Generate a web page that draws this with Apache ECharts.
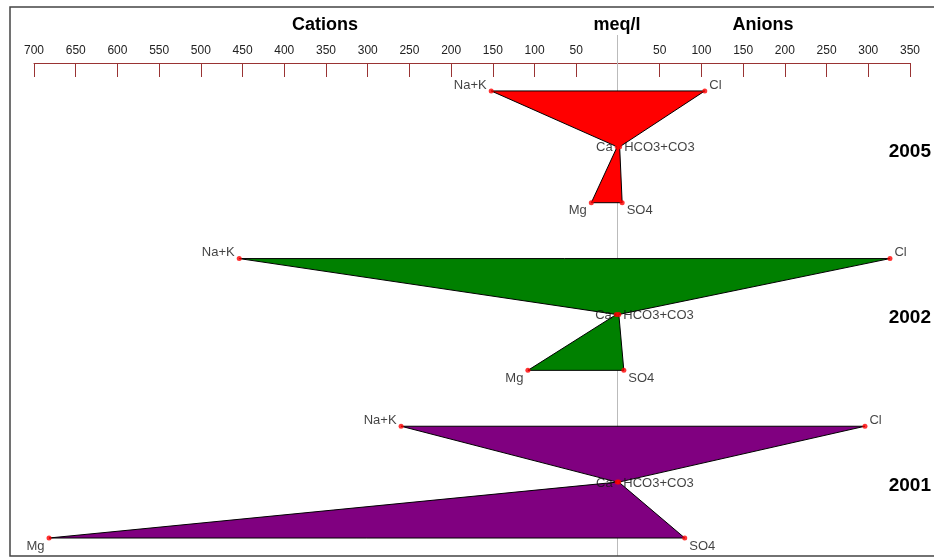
<!DOCTYPE html>
<html><head><meta charset="utf-8">
<script src="https://cdn.jsdelivr.net/npm/echarts@6/dist/echarts.min.js"></script>
<style>html,body{margin:0;padding:0;background:#fff}#c{width:934px;height:558px}</style>
</head><body><div id="c"></div>
<script>
// Stiff diagram data (meq/l)
var years = ['2005', '2002', '2001'];
var colors = ['#ff0000', '#008000', '#800080'];
var cationNames = ['Na+K', 'Ca', 'Mg'];
var anionNames = ['Cl', 'HCO3+CO3', 'SO4'];
var cations2005 = [152, 1, 32];
var anions2005 = [104, 2, 5];
var cations2002 = [454, 2, 108];
var anions2002 = [326, 1, 7];
var cations2001 = [260, 1, 682];
var anions2001 = [296, 1, 80];
var tickValues = [-700,-650,-600,-550,-500,-450,-400,-350,-300,-250,-200,-150,-100,-50,50,100,150,200,250,300,350];

var cations = [cations2005, cations2002, cations2001];
var anions = [anions2005, anions2002, anions2001];

var chart = echarts.init(document.getElementById('c'));
var FONT = '"Liberation Sans", Arial, sans-serif';

var series = [];
years.forEach(function (yr, s) {
  var base = s * 3;
  var poly = [];
  for (var i = 0; i < 3; i++) poly.push([-cations[s][i], base + i]);
  for (var j = 2; j >= 0; j--) poly.push([anions[s][j], base + j]);
  series.push({
    type: 'custom',
    data: [0],
    silent: true,
    z: 2,
    renderItem: (function (pts, col) {
      return function (params, api) {
        return {
          type: 'polygon',
          shape: { points: pts.map(function (p) { return api.coord(p); }) },
          style: { fill: col, stroke: '#000', lineWidth: 1 }
        };
      };
    })(poly, colors[s])
  });
  var pts = [];
  for (var i2 = 0; i2 < 3; i2++) {
    pts.push({ value: [-cations[s][i2], base + i2], name: cationNames[i2], side: 'L', row: i2 });
    pts.push({ value: [anions[s][i2], base + i2], name: anionNames[i2], side: 'R', row: i2 });
  }
  series.push({
    type: 'scatter',
    symbolSize: 5,
    itemStyle: { color: '#ff0000' },
    z: 4,
    data: pts.map(function (p) {
      var dy = p.row === 0 ? -6 : (p.row === 1 ? 1 : 8);
      return {
        value: p.value, name: p.name,
        label: {
          show: true, formatter: p.name,
          position: p.side === 'L' ? 'left' : 'right',
          distance: 2, offset: [0, dy],
          color: '#111', fontSize: 13, fontFamily: FONT
        }
      };
    })
  });
});

chart.setOption({
  animation: false,
  grid: { left: 34, right: 24, top: 63, bottom: 20 },
  xAxis: {
    type: 'value', position: 'top', min: -700, max: 350, interval: 50,
    splitLine: { show: false },
    axisLine: { show: true, onZero: false, lineStyle: { color: '#993333', width: 1 } },
    axisTick: { show: true, inside: true, length: 14, customValues: tickValues, lineStyle: { color: '#993333' } },
    axisLabel: {
      margin: 6, color: '#222', fontSize: 12, fontFamily: FONT,
      customValues: tickValues,
      formatter: function (v) { return v === 0 ? '' : String(Math.abs(v)); }
    }
  },
  yAxis: { type: 'value', min: -0.5, max: 8, inverse: true, show: false },
  graphic: [
    { type: 'rect', shape: { x: 10, y: 7, width: 940, height: 549 }, style: { fill: 'none', stroke: '#444', lineWidth: 1.5 }, z: 10 },
    { type: 'line', shape: { x1: 617.5, y1: 35, x2: 617.5, y2: 556 }, style: { stroke: '#bbbbbb', lineWidth: 1 }, z: 1 },
    { type: 'text', x: 325, y: 25, style: { text: 'Cations', font: 'bold 18px ' + FONT, fill: '#000', textAlign: 'center', textVerticalAlign: 'middle' } },
    { type: 'text', x: 617, y: 25, style: { text: 'meq/l', font: 'bold 18px ' + FONT, fill: '#000', textAlign: 'center', textVerticalAlign: 'middle' } },
    { type: 'text', x: 763, y: 25, style: { text: 'Anions', font: 'bold 18px ' + FONT, fill: '#000', textAlign: 'center', textVerticalAlign: 'middle' } },
    { type: 'text', x: 931, y: 152, style: { text: years[0], font: 'bold 19px ' + FONT, fill: '#000', textAlign: 'right', textVerticalAlign: 'middle' } },
    { type: 'text', x: 931, y: 318, style: { text: years[1], font: 'bold 19px ' + FONT, fill: '#000', textAlign: 'right', textVerticalAlign: 'middle' } },
    { type: 'text', x: 931, y: 486, style: { text: years[2], font: 'bold 19px ' + FONT, fill: '#000', textAlign: 'right', textVerticalAlign: 'middle' } }
  ],
  series: series
});
</script></body></html>
